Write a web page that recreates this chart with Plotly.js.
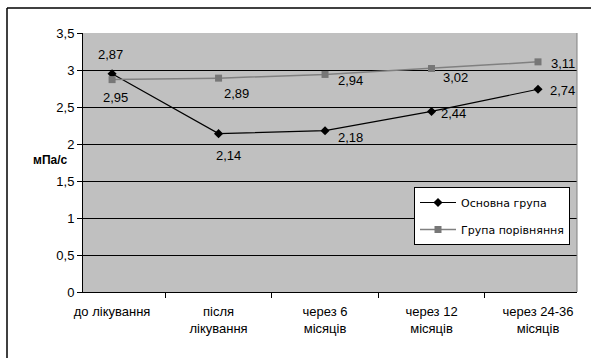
<!DOCTYPE html>
<html>
<head>
<meta charset="utf-8">
<script src="https://cdn.plot.ly/plotly-3.0.1.min.js"></script>
<style>html,body{margin:0;padding:0;background:#fff;overflow:hidden;}#chart{width:591px;height:358px;}</style>
</head>
<body>
<div id="chart"></div>
<script>
// ---- data ----
var categories = ["до лікування", "після<br>лікування", "через 6<br>місяців", "через 12<br>місяців", "через 24-36<br>місяців"];
var seriesNames = ["Основна група", "Група порівняння"];
var mainValues = [2.95, 2.14, 2.18, 2.44, 2.74];
var compValues = [2.87, 2.89, 2.94, 3.02, 3.11];
var yTickVals = [0, 0.5, 1, 1.5, 2, 2.5, 3, 3.5];
var yTitle = "мПа/с";

// ---- style / label placement ----
var mainLabelShift = [[3, -24], [10, -22], [25, -7], [22, -2], [24, -1]];
var compLabelShift = [[-2, 25], [18, -15], [25, -6], [24, -9], [25, -2]];

function fmt(v) { return v.toFixed(2).replace('.', ','); }
var font = "Liberation Sans, Arial, sans-serif";

var L = 83, R = 14, T = 33, B = 66, W = 591, H = 358;
var pw = W - L - R, ph = H - T - B;
function px(x) { return (x - L) / pw; }
function py(y) { return (H - B - y) / ph; }

var traces = [
  {
    x: categories, y: mainValues, name: seriesNames[0], type: 'scatter', mode: 'lines+markers',
    line: {color: '#000000', width: 1.2},
    marker: {symbol: 'diamond', size: 7, color: '#000000'},
    legendgroup: 'a', cliponaxis: false
  },
  {
    x: categories, y: compValues, name: seriesNames[1], type: 'scatter', mode: 'lines+markers',
    line: {color: '#808080', width: 1.5},
    marker: {symbol: 'square', size: 7, color: '#777777'},
    legendgroup: 'b', cliponaxis: false
  }
];

var annotations = [];
mainValues.forEach(function (v, i) {
  annotations.push({x: categories[i], y: v, xref: 'x', yref: 'y', text: fmt(v), showarrow: false,
    xshift: mainLabelShift[i][0], yshift: mainLabelShift[i][1], font: {family: font, size: 13, color: '#000'}});
});
compValues.forEach(function (v, i) {
  annotations.push({x: categories[i], y: v, xref: 'x', yref: 'y', text: fmt(v), showarrow: false,
    xshift: compLabelShift[i][0], yshift: compLabelShift[i][1], font: {family: font, size: 13, color: '#000'}});
});
annotations.push({x: px(31), y: py(160), xref: 'paper', yref: 'paper', text: '<b>' + yTitle + '</b>',
  showarrow: false, font: {family: font, size: 12, color: '#000'}});

var layout = {
  width: W, height: H,
  margin: {l: L, r: R, t: T, b: B, pad: 0},
  paper_bgcolor: '#ffffff', plot_bgcolor: '#c0c0c0',
  separators: ', ',
  font: {family: font, size: 13, color: '#000'},
  showlegend: true,
  legend: {
    x: px(414), y: py(187), xanchor: 'left', yanchor: 'top',
    bgcolor: '#ffffff', bordercolor: '#000000', borderwidth: 1,
    font: {family: "DejaVu Sans, sans-serif", size: 11, color: '#000'},
    tracegroupgap: 8, itemwidth: 36
  },
  xaxis: {
    type: 'category', tickson: 'boundaries', ticks: 'outside', ticklen: 5, tickcolor: '#000',
    ticklabelstandoff: 7,
    showline: true, linecolor: '#000', linewidth: 1, showgrid: false,
    tickfont: {family: font, size: 13, color: '#000'}, fixedrange: true
  },
  yaxis: {
    range: [0, 3.5], tickvals: yTickVals, ticks: 'outside', ticklen: 5, tickcolor: '#000',
    showline: true, linecolor: '#000', linewidth: 1,
    showgrid: true, gridcolor: '#000000', gridwidth: 1, zeroline: false,
    tickfont: {family: font, size: 13, color: '#000'}, fixedrange: true
  },
  shapes: [
    {type: 'line', xref: 'paper', yref: 'paper', x0: 1, x1: 1, y0: 0, y1: 1, line: {color: '#808080', width: 1}},
    {type: 'line', xref: 'paper', yref: 'paper', x0: px(7), x1: px(591), y0: py(8), y1: py(8),
      line: {color: '#000000', width: 1.5}},
    {type: 'line', xref: 'paper', yref: 'paper', x0: px(7), x1: px(7), y0: py(8), y1: py(358),
      line: {color: '#000000', width: 1.5}}
  ],
  annotations: annotations
};

Plotly.newPlot('chart', traces, layout, {displayModeBar: false, staticPlot: true});
</script>
</body>
</html>
